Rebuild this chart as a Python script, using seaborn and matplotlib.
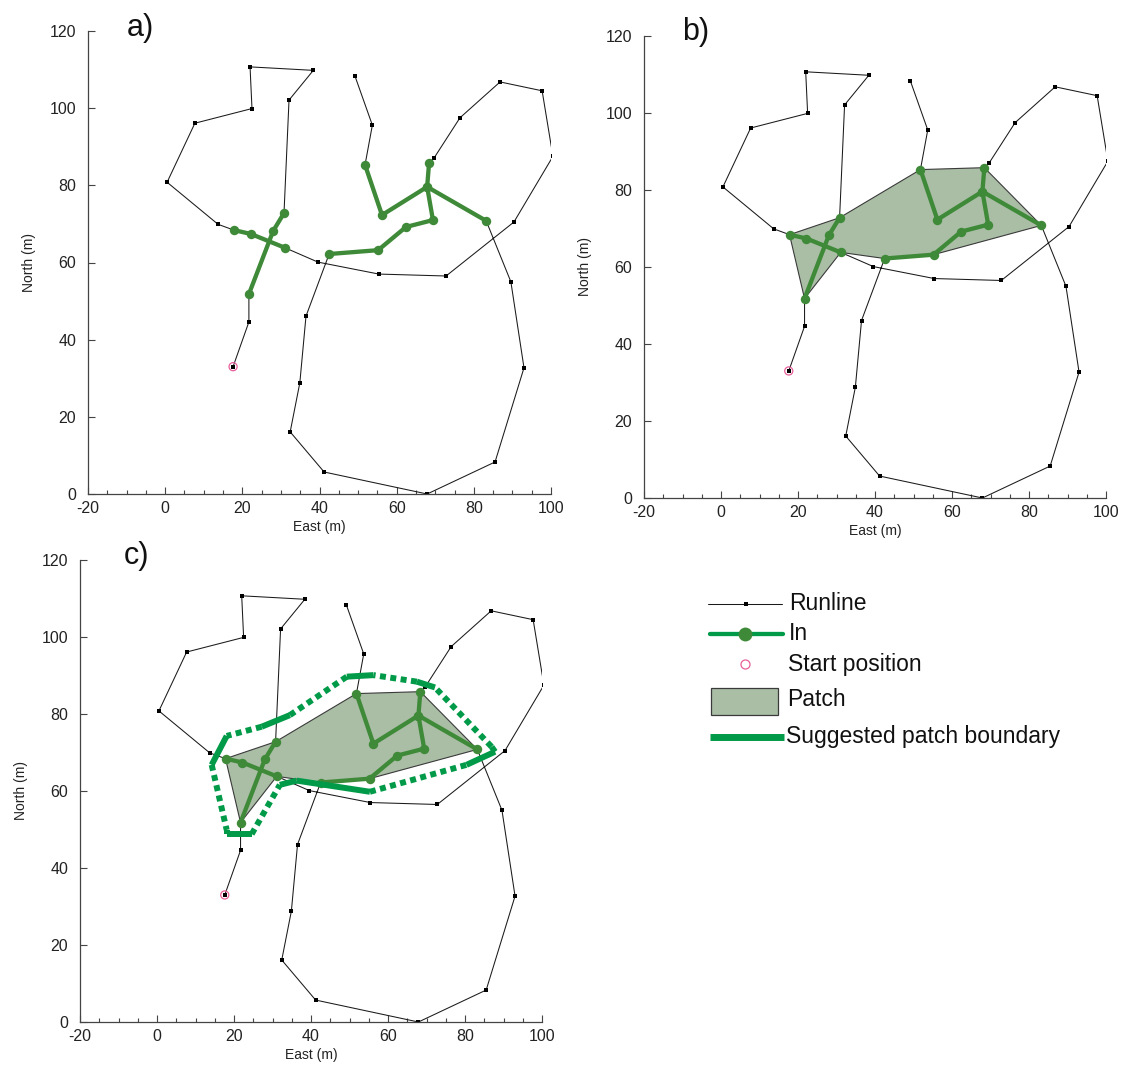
import numpy as np
import pandas as pd
import matplotlib
matplotlib.use("Agg")
import matplotlib.pyplot as plt
from matplotlib.lines import Line2D
from matplotlib.patches import Rectangle
import seaborn as sns

# ---- runline (East, North in metres), in walking order ----
run_east = [17.6, 21.7, 21.7, 28.0, 30.8, 32.1, 38.4, 22.0, 22.5, 7.7, 0.5, 13.7,
            17.8, 22.2, 31.1, 39.6, 55.4, 72.8, 90.4, 100.5, 97.7, 86.8, 76.4, 69.7,
            68.4, 67.9, 69.4, 62.4, 55.2, 42.5, 36.5, 34.9, 32.4, 41.2, 67.9, 85.5,
            93.0, 89.6, 83.2, 67.9, 56.2, 51.8, 53.7, 49.2]
run_north = [33.0, 44.6, 51.8, 68.2, 72.8, 102.1, 109.8, 110.7, 99.9, 96.1, 80.8, 69.9,
             68.4, 67.4, 63.8, 60.1, 57.0, 56.5, 70.5, 87.5, 104.5, 106.8, 97.5, 87.1,
             85.8, 79.6, 71.0, 69.2, 63.2, 62.2, 46.1, 28.8, 16.1, 5.7, 0.0, 8.3,
             32.7, 55.0, 70.8, 79.6, 72.3, 85.3, 95.6, 108.3]

# ---- "In" passages ----
in_passage = [1, 1, 1, 2, 2, 2, 3, 3, 3, 3, 3, 3, 4, 4, 4, 4]
in_east = [21.7, 28.0, 30.8, 17.8, 22.2, 31.1, 68.4, 67.9, 69.4, 62.4, 55.2, 42.5,
           83.2, 67.9, 56.2, 51.8]
in_north = [51.8, 68.2, 72.8, 68.4, 67.4, 63.8, 85.8, 79.6, 71.0, 69.2, 63.2, 62.2,
            70.8, 79.6, 72.3, 85.3]

# ---- start position ----
start_east = [17.6]
start_north = [33.0]

# ---- patch polygon ----
patch_east = [17.8, 21.7, 31.1, 42.5, 55.2, 83.2, 68.4, 51.8, 30.8]
patch_north = [68.4, 51.8, 63.8, 62.2, 63.2, 70.8, 85.8, 85.3, 72.8]

# ---- suggested patch boundary ----
boundary_east = [18.1, 24.6, 31.9, 36.3, 55.3, 80.4, 87.8, 86.9, 72.2, 67.5, 56.2,
                 49.3, 34.5, 27.2, 18.1, 14.2, 18.1]
boundary_north = [48.8, 48.8, 61.6, 62.7, 59.8, 66.8, 70.2, 71.5, 86.9, 88.4, 90.1,
                  89.7, 79.7, 76.7, 74.3, 66.8, 49.9]
# stroke of each edge (i -> i+1, last edge closes the ring)
boundary_solid = [True, False, True, True, False, True, False, False, True, False,
                  True, False, True, False, True, False, False]

panel_labels = ["a)", "b)", "c)"]
x_ticks = [-20, 0, 20, 40, 60, 80, 100]
y_ticks = [0, 20, 40, 60, 80, 100, 120]

legend_labels = ["Runline", "In", "Start position", "Patch", "Suggested patch boundary"]

# ---- styling ----
RUN_COLOR = "#1a1a1a"
IN_GREEN = "#3f8a39"
BRIGHT_GREEN = "#009a48"
PATCH_FILL = "#aabea6"
PATCH_EDGE = "#3a3a3a"
PINK = "#e8609a"
FONT = ["Liberation Sans", "DejaVu Sans"]

sns.set_theme(style="ticks")
plt.rcParams["font.family"] = FONT
plt.rcParams["axes.unicode_minus"] = False

W, H = 1121, 1075
fig = plt.figure(figsize=(W / 100, H / 100), dpi=100)


def px_rect(left, top, w, h):
    return [left / W, 1 - (top + h) / H, w / W, h / H]


run_df = pd.DataFrame({"east": run_east, "north": run_north})
in_df = pd.DataFrame({"east": in_east, "north": in_north, "passage": in_passage})


def draw_panel(ax, with_patch, with_boundary):
    if with_patch:
        ax.fill(patch_east, patch_north, facecolor=PATCH_FILL, edgecolor=PATCH_EDGE,
                linewidth=0.8, zorder=1)
    sns.lineplot(data=run_df, x="east", y="north", sort=False, estimator=None,
                 color=RUN_COLOR, linewidth=0.75, marker="s", markersize=3.3,
                 markeredgewidth=0, markerfacecolor="black", ax=ax, zorder=2,
                 legend=False)
    sns.lineplot(data=in_df, x="east", y="north", units="passage", sort=False,
                 estimator=None, color=IN_GREEN, linewidth=3.1, marker="o",
                 markersize=6.8, markeredgewidth=0, markerfacecolor=IN_GREEN,
                 ax=ax, zorder=3, legend=False)
    ax.scatter(start_east, start_north, s=34, facecolors="none", edgecolors=PINK,
               linewidths=0.9, zorder=4)
    if with_boundary:
        n = len(boundary_east)
        for i in range(n):
            j = (i + 1) % n
            xs = [boundary_east[i], boundary_east[j]]
            ys = [boundary_north[i], boundary_north[j]]
            if boundary_solid[i]:
                ax.plot(xs, ys, color=BRIGHT_GREEN, lw=4.3, solid_capstyle="butt",
                        zorder=5)
            else:
                ax.plot(xs, ys, color=BRIGHT_GREEN, lw=4.3, dash_capstyle="butt",
                        linestyle=(0, (1.0, 0.75)), zorder=5)

    ax.set_xlim(-20, 100)
    ax.set_ylim(0, 120)
    ax.set_xticks(x_ticks)
    ax.set_yticks(y_ticks)
    ax.set_xticks(np.arange(-20, 101, 5), minor=True)
    ax.tick_params(axis="both", which="major", direction="in", length=5, width=0.8,
                   color="#444444", labelsize=11.5, labelcolor="#222222")
    ax.tick_params(axis="x", which="major", pad=5)
    ax.tick_params(axis="y", which="major", pad=8.5)
    ax.tick_params(axis="x", which="minor", direction="in", length=2.6, width=0.8,
                   color="#444444")
    for side in ("top", "right"):
        ax.spines[side].set_visible(False)
    for side in ("left", "bottom"):
        ax.spines[side].set_color("#444444")
        ax.spines[side].set_linewidth(0.9)
    ax.set_xlabel("East (m)", fontsize=10, color="#222222", labelpad=3)
    ax.set_ylabel("North (m)", fontsize=10, color="#222222", labelpad=10)
    ax.set_facecolor("none")


ax_a = fig.add_axes(px_rect(88, 31, 463, 463))
ax_b = fig.add_axes(px_rect(644, 36, 462, 462))
ax_c = fig.add_axes(px_rect(80, 560, 462, 462))

draw_panel(ax_a, False, False)
draw_panel(ax_b, True, False)
draw_panel(ax_c, True, True)

# panel letters
for label, (lx, ly) in zip(panel_labels, [(127, 28), (682, 32), (124, 556)]):
    fig.text(lx / W, 1 - ly / H, label, fontsize=22, ha="left", va="center",
             color="#111111")

# ---- legend, laid out in figure pixel space ----
lg = fig.add_axes([0, 0, 1, 1])
lg.set_xlim(0, W)
lg.set_ylim(H, 0)
lg.axis("off")
lg.set_zorder(-1)

rows = [604, 634, 664, 700, 737]
lg.add_line(Line2D([708, 782], [rows[0], rows[0]], color=RUN_COLOR, lw=0.75))
lg.add_line(Line2D([746], [rows[0]], marker="s", markersize=3.5, color="black",
                   markeredgewidth=0))
lg.add_line(Line2D([710, 783], [rows[1], rows[1]], color=BRIGHT_GREEN, lw=3.1))
lg.add_line(Line2D([745], [rows[1]], marker="o", markersize=10, color=IN_GREEN,
                   markeredgewidth=0))
lg.add_line(Line2D([745], [rows[2]], marker="o", markersize=6.5, markerfacecolor="none",
                   markeredgecolor=PINK, markeredgewidth=0.9))
lg.add_patch(Rectangle((711, 688), 67, 27, facecolor=PATCH_FILL, edgecolor=PATCH_EDGE,
                       lw=0.9))
lg.add_line(Line2D([710, 784], [rows[4], rows[4]], color=BRIGHT_GREEN, lw=5,
                   solid_capstyle="butt"))
text_x = [789, 789, 788, 787, 786]
for tx, ty, txt in zip(text_x, rows, legend_labels):
    lg.text(tx, ty, txt, fontsize=16.5, ha="left", va="center", color="#111111")

fig.savefig("out.png", dpi=100)
